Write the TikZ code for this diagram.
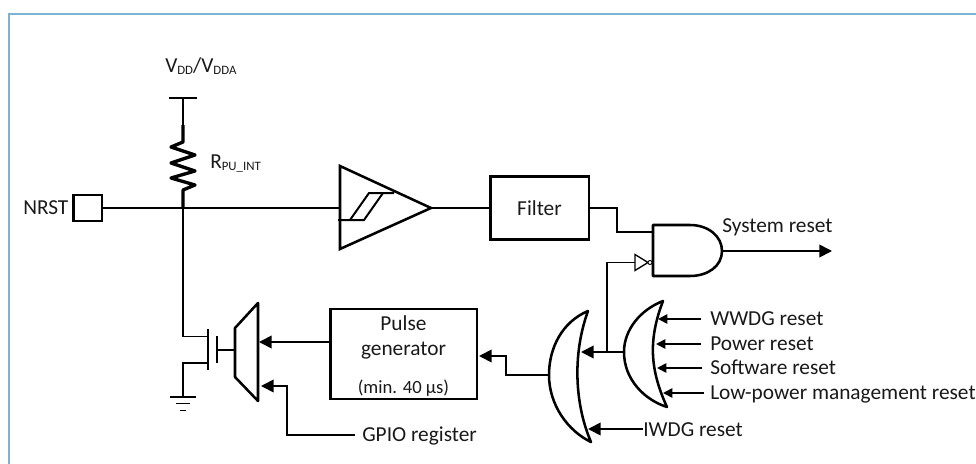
\documentclass[tikz,border=0pt]{standalone}
\usepackage{fontspec}
\setmainfont{Carlito}
\usetikzlibrary{arrows.meta}
\definecolor{frameblue}{HTML}{7FB1D2}
\tikzset{
 x=0.75pt,y=-0.75pt,
 wire/.style={line width=1.3pt,black},
 thinwire/.style={line width=1.05pt,black},
 thick box/.style={draw,line width=2pt},
 sig/.style={wire,-{Triangle[length=9.5pt,width=9.5pt]}},
 sigs/.style={wire,-{Triangle[length=7pt,width=7pt]}},
 lbl/.style={font=\fontsize{16pt}{19pt}\selectfont,inner sep=0pt,text=black!90,anchor=base west},
 ctr/.style={font=\fontsize{16pt}{19pt}\selectfont,inner sep=0pt,text=black!90,anchor=base},
 gate/.style={draw,line width=1.9pt,fill=white,line join=round},
}
\newcommand{\smallsub}[1]{\raisebox{-0.2ex}{\fontsize{9.6pt}{11pt}\selectfont #1}}
\begin{document}
\begin{tikzpicture}
\useasboundingbox (0,0) rectangle (976,464);
\draw[frameblue,line width=1.3pt] (9,464)--(9,14)--(976,14);
% coordinates
\coordinate (vtop) at (183,98);
\coordinate (vl) at (169,98);
\coordinate (vr) at (197,98);
\coordinate (rtop) at (183,125);
\coordinate (junc) at (183,208);
% text
\node[lbl] (vdd) at (165,72) {V\smallsub{DD}/V\smallsub{DDA}};
\node[lbl] (rpu) at (210,168) {R\smallsub{PU\_INT}};
\node[lbl] (nrst) at (23,214) {NRST};
% supply + resistor
\draw[wire] (vl)--(vr);
\draw[wire] (vtop)--(rtop);
\draw[wire,line width=2.5pt,line join=round] (rtop)--(183,142)--(171,147)--(195,155)--(171,163)--(195,171)--(171,178)--(195,185)--(183,190)--(junc);
% NRST pad
\node[thick box,minimum width=21.5pt,minimum height=19.5pt,inner sep=0pt] (pad) at (87.5,208) {};
\draw[wire] (pad.east)--(340,208);
% Schmitt
\draw[line width=1.9pt,line join=miter] (340,166)--(431,208)--(340,249)--cycle;
\coordinate (schmitt) at (431,208);
\draw[line width=1.5pt] (338,220)--(364,220)--(383,193);
\draw[line width=1.5pt] (350,220)--(369,193)--(394,193);
% Filter
\node[thick box,minimum width=74pt,minimum height=47pt,inner sep=0pt] (filter) at (539.5,208) {};
\node[ctr] (filtert) at (539.5,215) {Filter};
\draw[wire] (schmitt)--(filter.west);
% AND
\coordinate (and1) at (653,232);
\coordinate (andout) at (722,251);
\draw[wire] (filter.east)--(617,208)--(617,232)--(and1);
\draw[gate] (653,225)--(690,225) .. controls (708,225) and (722,236) .. (andout)
  .. controls (722,266) and (708,276) .. (690,276)--(653,276)--cycle;
\node[lbl] (sys) at (722,232) {System reset};
\coordinate (sysend) at (832,251);
\draw[sig] (andout)--(sysend);
% OR gates
\draw[gate] (588,311) .. controls (562,322) and (549,348) .. (549,375)
  .. controls (549,405) and (568,431) .. (591,442)
  .. controls (575,405) and (572,355) .. (588,311)--cycle;
\draw[gate] (663,301) .. controls (640,310) and (624,330) .. (624,352)
  .. controls (624,380) and (645,400) .. (667,407)
  .. controls (650,370) and (648,340) .. (663,301)--cycle;
% wires OR
\coordinate (or2in) at (581,352);
\draw[sig] (624,352)--(or2in);
\draw[thinwire] (607,352)--(607,262.5)--(635,262.5);
% inverter
\draw[line width=1pt,fill=white] (635,254.5)--(648,262.5)--(635,270.5)--cycle;
\draw[line width=0.7pt,fill=white] (650,262.5) circle (2);
% inputs
\foreach \yy/\xa/\xb/\txt/\nm in {319/658/701/WWDG reset/a,344/656/701/Power reset/b,368/657/702/Software reset/c,393/663/704/Low-power management reset/d}{
  \coordinate (s\nm) at (\xb,\yy);
  \coordinate (e\nm) at (\xa,\yy);
  \draw[sigs] (s\nm)--(e\nm);
  \pgfmathsetmacro{\bl}{\yy+6}
  \node[lbl] (t\nm) at (710,\bl) {\txt};
}
% IWDG
\node[lbl] (iwdg) at (643,436) {IWDG reset};
\coordinate (iwa) at (643,429);
\coordinate (iw) at (588,429);
\draw[sig] (iwa)--(iw);
% Pulse generator
\node[thick box,minimum width=110pt,minimum height=67.5pt,inner sep=0pt] (pulse) at (403.5,354) {};
\node[ctr] (pt1) at (403.5,330) {Pulse};
\node[ctr] (pt2) at (403.5,355) {generator};
\node[ctr,font=\fontsize{14pt}{17pt}\selectfont] (pmin) at (403.5,393) {(min. 40 µs)};
\coordinate (pout) at (479,356);
\draw[sig] (549,375)--(506,375)--(506,356)--(pout);
% mux
\draw[gate] (235,328)--(258,303)--(258,401)--(235,377)--cycle;
\coordinate (muxin) at (259,342);
\coordinate (pulsel) at (330,342);
\draw[sig] (pulsel)--(muxin);
\node[lbl] (gpio) at (362,441) {GPIO register};
\coordinate (gpa) at (355,435);
\coordinate (muxin2) at (261,386);
\draw[sig] (gpa)--(287,435)--(287,386)--(muxin2);
% MOSFET
\draw[wire] (junc)--(183,336.5)--(208,336.5);
\draw[wire] (208,329)--(208,370);
\draw[wire] (217,336)--(217,363);
\draw[wire] (217,350)--(235,350);
\draw[wire] (208,363)--(183,363)--(183,397);
\draw[wire] (170,397)--(196,397);
\draw[wire] (176,403.5)--(190,403.5);
\draw[wire] (180,410.5)--(186,410.5);
\end{tikzpicture}
\end{document}
